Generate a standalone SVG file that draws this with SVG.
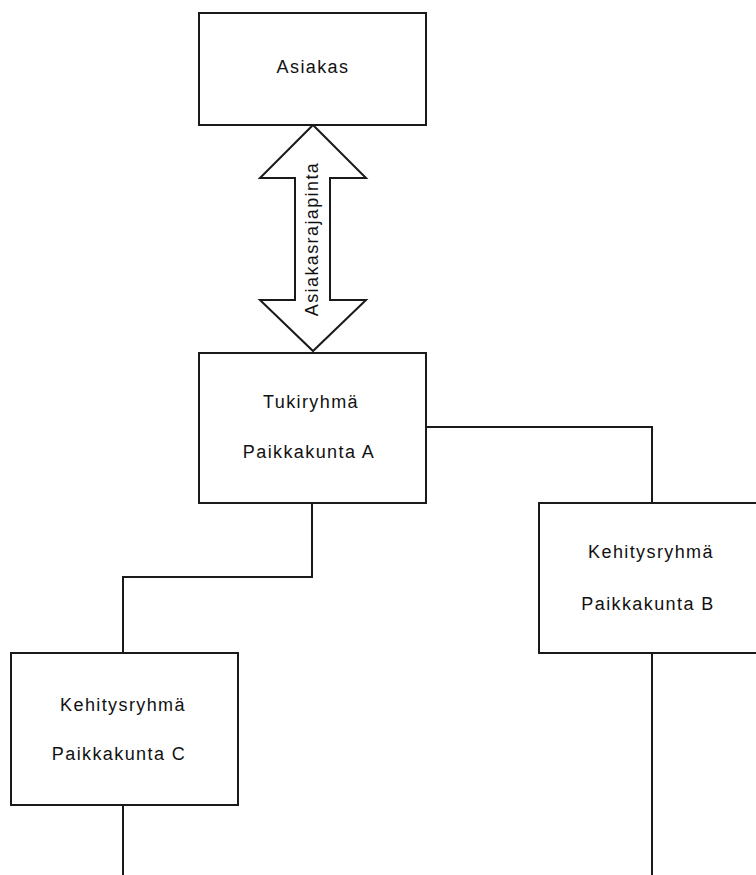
<svg xmlns="http://www.w3.org/2000/svg" width="756" height="875" viewBox="0 0 756 875">
  <style>
    .box { fill: #ffffff; stroke: #1a1a1a; stroke-width: 2; }
    .wire { fill: none; stroke: #1a1a1a; stroke-width: 2; }
    .lbl { font-family: "Liberation Sans", Arial, sans-serif; font-size: 18px; letter-spacing: 1.4px; fill: #111111; text-anchor: middle; }
  </style>
  <rect width="756" height="875" fill="#ffffff"/>

  <!-- connectors -->
  <g id="connectors">
    <path class="wire" d="M426,427 H652 V503"/>
    <path class="wire" d="M312,503 V577 H123 V653"/>
    <path class="wire" d="M123,805 V875"/>
    <path class="wire" d="M652,653 V875"/>
  </g>

  <!-- double-headed interface arrow -->
  <g id="asiakasrajapinta">
    <polygon class="box" points="313,125 366,178 330,178 330,300 366,300 313,351 260,300 295,300 295,178 260,178"/>
    <text class="lbl" transform="translate(318,239) rotate(-90)">Asiakasrajapinta</text>
  </g>

  <g id="asiakas">
    <rect class="box" x="199" y="13" width="227" height="112"/>
    <text class="lbl" x="313" y="73">Asiakas</text>
  </g>

  <g id="tukiryhma">
    <rect class="box" x="199" y="353" width="227" height="150"/>
    <text class="lbl" x="311" y="408">Tukiryhmä</text>
    <text class="lbl" x="309" y="458">Paikkakunta A</text>
  </g>

  <g id="kehitysryhma-b">
    <rect class="box" x="539" y="503" width="230" height="150"/>
    <text class="lbl" x="651" y="558">Kehitysryhmä</text>
    <text class="lbl" x="648" y="610">Paikkakunta B</text>
  </g>

  <g id="kehitysryhma-c">
    <rect class="box" x="11" y="653" width="227" height="152"/>
    <text class="lbl" x="123" y="711">Kehitysryhmä</text>
    <text class="lbl" x="119" y="760">Paikkakunta C</text>
  </g>
</svg>
